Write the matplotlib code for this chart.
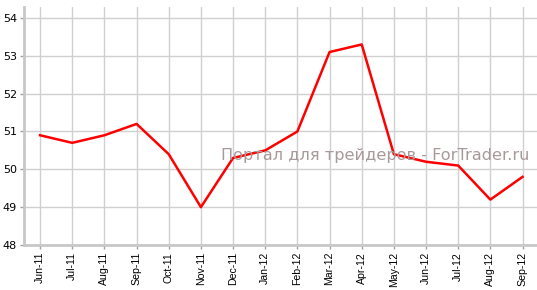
import matplotlib
matplotlib.use("Agg")
import matplotlib.pyplot as plt

# Monthly values
months = ["Jun-11", "Jul-11", "Aug-11", "Sep-11", "Oct-11", "Nov-11", "Dec-11", "Jan-12",
          "Feb-12", "Mar-12", "Apr-12", "May-12", "Jun-12", "Jul-12", "Aug-12", "Sep-12"]
values = [50.9, 50.7, 50.9, 51.2, 50.4, 49.0, 50.3, 50.5,
          51.0, 53.1, 53.3, 50.4, 50.2, 50.1, 49.2, 49.8]
y_ticks = [48, 49, 50, 51, 52, 53, 54]

fig = plt.figure(figsize=(5.37, 2.90), dpi=100)
ax = fig.add_axes([24 / 537, 1 - 245 / 290, 1 - 24 / 537, 238 / 290])

x = list(range(len(months)))
ax.plot(x, values, color="#ff0000", linewidth=1.8, zorder=3)

ax.set_xlim(-0.5, len(months) - 0.55)
ax.set_ylim(48, 54.29)
ax.set_xticks(x)
ax.set_xticklabels(months, rotation=90, fontsize=7.6, family="Liberation Sans")
ax.set_yticks(y_ticks)
ax.set_yticklabels([str(v) for v in y_ticks], fontsize=8)

ax.grid(True, color="#d0d0d0", linewidth=1)
ax.set_axisbelow(True)
for side in ["top", "right"]:
    ax.spines[side].set_visible(False)
for side in ["left", "bottom"]:
    ax.spines[side].set_color("#c8c8c8")
    ax.spines[side].set_linewidth(2)
ax.tick_params(axis="both", color="#a0a0a0", length=3, width=1, pad=2)

# Watermark
ax.text(0.985, 0.378, "Портал для трейдеров - ForTrader.ru", transform=ax.transAxes,
        ha="right", va="center", fontsize=11.6, color="#a89a9a", zorder=4)

fig.savefig("out.png", dpi=100)
